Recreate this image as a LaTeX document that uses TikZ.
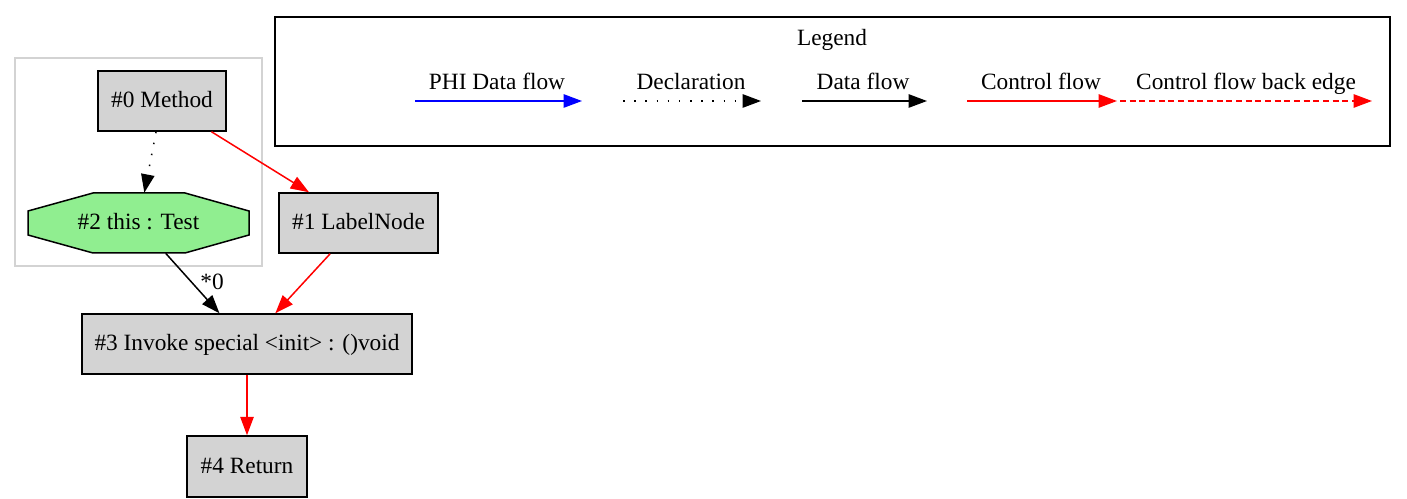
\documentclass[tikz,border=0pt]{standalone}
\usepackage{fontspec}
\setmainfont{Liberation Serif}
\usetikzlibrary{arrows.meta}
\definecolor{gvgray}{HTML}{D3D3D3}
\definecolor{gvgreen}{HTML}{90EE90}
\begin{document}
\begin{tikzpicture}[x=0.6pt,y=-0.6pt,
  every node/.style={font=\fontsize{14}{16}\selectfont, inner sep=0pt, text height=10.4pt, text depth=2pt},
  box/.style={draw=black, fill=gvgray, line width=0.9pt},
  edge/.style={line width=0.9pt, -{Triangle[length=11pt,width=8pt]}},
  ctrl/.style={edge, draw=red, -{Triangle[length=11pt,width=8pt,fill=red]}},
  decl/.style={edge, dash pattern=on 0.9pt off 5.8pt},
  phi/.style={edge, draw=blue, -{Triangle[length=11pt,width=8pt,fill=blue]}},
  back/.style={ctrl, dash pattern=on 3.6pt off 2.2pt}]
\fill[white] (0,0) rectangle (1407,499);
\useasboundingbox (0,0) rectangle (1407,499);
% cluster
\draw[gvgray, line width=0.9pt] (15,58) rectangle (262,266);
% nodes
\node[box, minimum width=128*0.6pt, minimum height=60*0.6pt] (n0) at (162,101) {\#0 Method};
\draw[fill=gvgreen, line width=0.9pt] (93,193) -- (185,193) -- (249,211) -- (249,235) -- (185,253) -- (93,253) -- (28,235) -- (28,211) -- cycle;
\node[minimum width=221*0.6pt, minimum height=60*0.6pt] (n2) at (138.5,223) {\#2 this : Test};
\node[box, minimum width=159*0.6pt, minimum height=60*0.6pt] (n1) at (358.5,223) {\#1 LabelNode};
\node[box, minimum width=330*0.6pt, minimum height=60*0.6pt] (n3) at (247,344) {\#3 Invoke special <init> : ()void};
\node[box, minimum width=120*0.6pt, minimum height=61*0.6pt] (n4) at (247,466.5) {\#4 Return};
% edges
\draw[decl] (n0) -- (n2);
\draw[ctrl] (n0) -- (n1);
\draw[edge] (n2) -- (n3);
\node (lbl) at (212,283) {*0};
\draw[ctrl] (n1) -- (n3);
\draw[ctrl] (n3) -- (n4);
% legend
\draw[line width=0.9pt] (275,17) rectangle (1390,146);
\node (legend) at (832,39) {Legend};
\coordinate (p1) at (415,101); \coordinate (p2) at (582,101);
\coordinate (d1) at (623,101); \coordinate (d2) at (761,101);
\coordinate (f1) at (802,101); \coordinate (f2) at (927,101);
\coordinate (c1) at (967,101); \coordinate (c2) at (1117,101);
\coordinate (b1) at (1120,101); \coordinate (b2) at (1372,101);
\node (lp) at (497,83) {PHI Data flow};
\node (ld) at (691,83) {Declaration};
\node (lf) at (863,83) {Data flow};
\node (lc) at (1041,83) {Control flow};
\node (lb) at (1246,83) {Control flow back edge};
\draw[phi] (p1) -- (p2);
\draw[decl] (d1) -- (d2);
\draw[edge] (f1) -- (f2);
\draw[ctrl] (c1) -- (c2);
\draw[back] (b1) -- (b2);
\end{tikzpicture}
\end{document}
